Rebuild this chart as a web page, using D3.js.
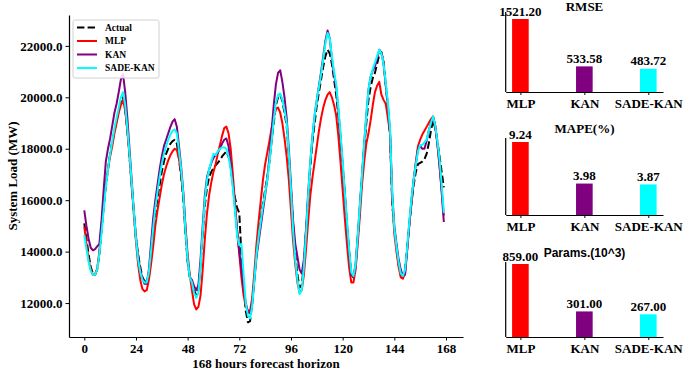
<!DOCTYPE html>
<html><head><meta charset="utf-8">
<script src="https://cdn.jsdelivr.net/npm/d3@7"></script>
<style>
html,body{margin:0;padding:0;background:#fff;}
svg{display:block;}
.serif{font-family:"Liberation Serif","Times New Roman",serif;font-weight:bold;}
</style></head>
<body>
<svg id="chart" width="685" height="371"></svg>
<script>
// ---------------- data ----------------
const hours = d3.range(0, 168);
const actual = [
15100,14500,13900,13400,13150,13100,13300,13900,14800,15700,16500,17200,
17800,18300,18700,19100,19500,19800,20000,19500,18700,17700,16600,15500,
14500,13900,13400,13000,12850,12800,13100,13800,14600,15400,16100,16600,
17100,17500,17800,18000,18200,18300,18350,18200,17600,16900,16000,14700,
13600,13000,12800,12500,12300,12500,13500,14700,15800,16500,16900,17100,
17250,17350,17450,17550,17700,17800,17900,17700,17300,16600,16100,15700,
15500,13800,12600,11700,11250,11300,12000,13000,13900,14600,15300,15900,
16400,16900,17500,18300,19000,19700,20000,20100,19850,19400,18900,17700,
16400,15000,13900,13100,12600,12700,13500,14800,16100,17300,18300,19000,
19700,20200,20700,21200,21600,21850,21700,21300,20700,20100,19300,18300,
17300,16200,15000,14000,13100,13000,13400,14500,15700,16900,18000,19000,
19900,20400,20750,20950,21300,21650,21750,21400,20500,19600,18500,15900,
14900,14200,13500,13100,13050,13300,14200,15100,15900,16600,17100,17400,
17450,17500,17600,17800,18200,18700,19100,18800,18300,17700,17100,16500];
const mlp = [
14970,14300,13700,13300,13100,13100,13350,14000,15000,16000,16700,17200,
17700,18100,18600,19000,19400,19700,19900,19500,18700,17700,16600,15500,
14400,13500,12900,12550,12450,12500,12900,13500,14200,15000,15600,16100,
16600,17000,17300,17550,17750,17900,18000,17950,17600,17000,16200,15000,
13900,13100,12500,11950,11750,11850,12300,13300,14500,15500,16200,16700,
17100,17400,17800,18150,18500,18800,18860,18600,18000,17000,15900,14800,
13900,13000,12300,11900,11700,11700,12200,13200,14300,15200,16000,16800,
17400,17850,18300,18800,19200,19550,19600,19400,19000,18400,17700,16800,
15600,14400,13500,12800,12400,12500,13100,14100,15200,16200,16900,17500,
18100,18700,19200,19600,19900,20100,20200,20000,19700,19300,18500,17500,
16400,15300,14300,13400,12800,12800,13300,14300,15400,16600,17500,18200,
18600,19100,19700,20200,20450,20600,20100,19900,19750,19200,18600,16100,
14700,14000,13400,13000,12950,13200,14100,15100,16000,16800,17500,18100,
18350,18550,18700,18850,19000,19150,19250,18900,18200,17300,16400,15400];
const kan = [
15600,15000,14500,14150,14050,14100,14200,14300,15200,16400,17500,18000,
18400,18900,19400,19750,20200,20700,20900,20200,19200,18000,16800,15600,
14600,13800,13300,12950,12750,12750,13300,14300,15300,16000,16600,17200,
17700,18100,18350,18600,18850,19050,19150,18850,18100,17300,16300,14900,
13700,13000,12900,12650,12500,12700,13700,15000,16200,16900,17200,17450,
17650,17750,17850,18000,18200,18350,18400,18100,17400,16600,15700,14800,
14000,13300,12600,12000,11650,11600,12000,12900,13800,14400,15000,15600,
16200,16800,17700,18700,19700,20500,20950,21050,20600,20000,19200,18000,
16600,15200,14300,13800,13300,13150,13700,14900,16300,17500,18500,19300,
19900,20450,21000,21600,22200,22600,22300,21500,20900,20400,19500,18500,
17400,16300,15100,14000,13100,13050,13500,14600,15800,17000,18200,19300,
20300,20800,21050,21200,21500,21850,21750,21300,20500,19700,18700,16300,
15000,14300,13700,13300,13050,13100,14100,15100,16000,16800,17400,18000,
18100,18000,18000,18300,18700,19000,19250,18900,18200,17400,16300,15150];
const sadeKan = [
14650,14100,13600,13250,13100,13100,13300,13900,14700,15600,16500,17200,
17800,18300,18800,19200,19600,20000,20200,19700,18800,17800,16700,15600,
14500,13700,13200,12900,12800,12800,13200,14000,14900,15700,16300,16900,
17400,17800,18100,18350,18550,18700,18750,18600,17900,17200,16200,14800,
13700,13000,12800,12400,12200,12400,13400,14800,16000,16800,17200,17500,
17800,17750,17900,18000,18050,18050,18000,17700,17200,16500,15600,14600,
14250,14300,13100,12000,11500,11400,11900,12900,13900,14600,15200,15800,
16300,16800,17500,18300,19100,19800,20100,20150,19900,19500,19000,17800,
16400,14800,13700,12900,12350,12500,13400,14700,16200,17500,18500,19300,
19900,20400,20900,21500,22100,22500,22300,21600,21000,20500,19600,18600,
17500,16300,15200,14100,13200,13050,13500,14600,15800,17000,18200,19300,
20300,20800,21100,21350,21600,21850,21700,21300,20600,19800,18800,16300,
14900,14200,13600,13150,13050,13300,14200,15200,16100,16800,17400,17900,
18150,18150,18250,18350,18700,19000,19250,18900,18300,17600,16600,15500];

const xTicks = [0, 24, 48, 72, 96, 120, 144, 168];
const yTicks = [12000, 14000, 16000, 18000, 20000, 22000];

const models = ["MLP", "KAN", "SADE-KAN"];
const modelColors = ["#ff0000", "#800080", "#00ffff"];
const rmse = [1521.20, 533.58, 483.72];
const mape = [9.24, 3.98, 3.87];
const params = [859.00, 301.00, 267.00];

// ---------------- line chart ----------------
const svg = d3.select("#chart");
const x = d3.scaleLinear().domain([-7.1, 175.9]).range([69, 463]);
const y = d3.scaleLinear().domain([10680, 23200]).range([337, 15]);

const series = [
  {name: "Actual", values: actual, color: "#000000", dash: "7.4,3.2"},
  {name: "MLP", values: mlp, color: "#ff0000", dash: null},
  {name: "KAN", values: kan, color: "#800080", dash: null},
  {name: "SADE-KAN", values: sadeKan, color: "#00ffff", dash: null}
];

const line = d3.line().x((d, i) => x(hours[i])).y(d => y(d));
series.forEach(s => {
  svg.append("path").datum(s.values)
    .attr("d", line)
    .attr("fill", "none")
    .attr("stroke", s.color)
    .attr("stroke-width", 2)
    .attr("stroke-linejoin", "round")
    .attr("stroke-dasharray", s.dash);
});

const gx = svg.append("g").attr("transform", "translate(0,337)")
  .call(d3.axisBottom(x).tickValues(xTicks).tickSize(3.5).tickPadding(3.5).tickSizeOuter(0));
const gy = svg.append("g").attr("transform", "translate(69,0)")
  .call(d3.axisLeft(y).tickValues(yTicks).tickFormat(d3.format(".1f")).tickSize(3.5).tickPadding(3).tickSizeOuter(0));
[gx, gy].forEach(g => {
  g.selectAll("text").attr("class", "serif").style("font-size", "13px").attr("fill", "#000");
  g.selectAll("line").attr("stroke", "#000");
  g.select(".domain").attr("stroke", "#000").attr("stroke-width", 1.2);
});

svg.append("text").attr("class", "serif").attr("x", 266).attr("y", 368)
  .attr("text-anchor", "middle").style("font-size", "13px").text("168 hours forecast horizon");
svg.append("text").attr("class", "serif")
  .attr("transform", "translate(16.5,176) rotate(-90)")
  .attr("text-anchor", "middle").style("font-size", "13px").text("System Load (MW)");

// legend
const lg = svg.append("g");
lg.append("rect").attr("x", 73).attr("y", 20).attr("width", 86).attr("height", 58)
  .attr("rx", 2).attr("fill", "#fff").attr("fill-opacity", 0.85).attr("stroke", "#d0d0d0");
series.forEach((s, i) => {
  const yy = 27.5 + i * 13.5;
  lg.append("line").attr("x1", 77).attr("x2", 97).attr("y1", yy).attr("y2", yy)
    .attr("stroke", s.color).attr("stroke-width", 2).attr("stroke-dasharray", s.dash);
  lg.append("text").attr("class", "serif").attr("x", 105).attr("y", yy + 3.3)
    .style("font-size", "9.5px").text(s.name);
});

// ---------------- bar panels ----------------
const xb = d3.scaleLinear().domain([-0.23, 2.23]).range([505.7, 663]);
const barW = 0.26;
const panels = [
  {title: "RMSE", values: rmse, base: 92, top: 12, barMax: 19, titleY: 11, titleFont: "serif", fmt: ".2f"},
  {title: "MAPE(%)", values: mape, base: 215, top: 138, barMax: 142, titleY: 133, titleFont: "serif", fmt: ".2f"},
  {title: "Params.(10^3)", values: params, base: 337, top: 262, barMax: 264, titleY: 257, titleFont: "sans", fmt: ".2f"}
];
panels.forEach(p => {
  const g = svg.append("g");
  const yb = d3.scaleLinear().domain([0, d3.max(p.values)]).range([p.base, p.barMax]);
  g.selectAll("rect").data(p.values).join("rect")
    .attr("x", (d, i) => xb(i - barW / 2))
    .attr("width", xb(barW) - xb(0))
    .attr("y", d => yb(d))
    .attr("height", d => p.base - yb(d))
    .attr("fill", (d, i) => modelColors[i]);
  g.selectAll("text.val").data(p.values).join("text")
    .attr("class", "serif val")
    .attr("x", (d, i) => xb(i)).attr("y", d => yb(d) - 3.5)
    .attr("text-anchor", "middle").style("font-size", "13px")
    .text(d => d3.format(p.fmt)(d));
  const ax = g.append("g").attr("transform", `translate(0,${p.base})`)
    .call(d3.axisBottom(xb).tickValues([0, 1, 2]).tickFormat(i => models[i]).tickSize(3).tickPadding(3.5).tickSizeOuter(0));
  ax.selectAll("text").attr("class", "serif").style("font-size", "13px").attr("fill", "#000");
  ax.select(".domain").attr("stroke", "#000").attr("stroke-width", 1.2);
  g.append("line").attr("x1", 505.7).attr("x2", 505.7).attr("y1", p.top).attr("y2", p.base)
    .attr("stroke", "#000").attr("stroke-width", 1.2);
  const t = g.append("text").attr("x", 584.5).attr("y", p.titleY).attr("text-anchor", "middle").text(p.title);
  if (p.titleFont === "serif") t.attr("class", "serif").style("font-size", "13px");
  else t.style("font-family", "'Liberation Sans', Arial, sans-serif").style("font-weight", "bold").style("font-size", "12px");
});
</script>
</body></html>
